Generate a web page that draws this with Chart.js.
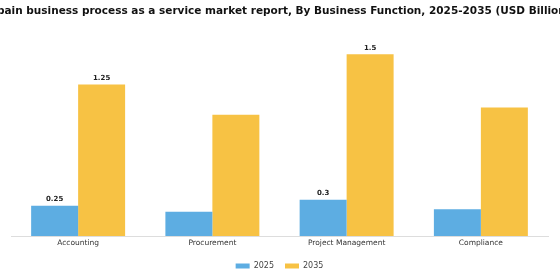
<!DOCTYPE html>
<html>
<head>
<meta charset="utf-8">
<script src="https://cdn.jsdelivr.net/npm/chart.js@4"></script>
<style>
  html, body { margin: 0; padding: 0; background: #fff; }
  #wrap { width: 560px; height: 280px; }
</style>
</head>
<body>
<div id="wrap"><canvas id="chart"></canvas></div>
<script>
const chartTitle = "Spain business process as a service market report, By Business Function, 2025-2035 (USD Billion)";
const categories = ["Accounting", "Procurement", "Project Management", "Compliance"];
const values2025 = [0.25, 0.2, 0.3, 0.22];
const values2035 = [1.25, 1.0, 1.5, 1.06];
// only some bars carry a value label in the reference
const labels2025 = ["0.25", "", "0.3", ""];
const labels2035 = ["1.25", "", "1.5", ""];

const blue = "#5DADE2";
const yellow = "#F7C244";

// the title in the reference is wider than the canvas and gets cut at both ends,
// so draw it by hand (Chart.js title would squeeze it to fit)
const wideTitle = {
    id: "wideTitle",
    afterDraw(chart) {
        const ctx = chart.ctx;
        ctx.save();
        ctx.font = "bold 10.5px 'DejaVu Sans'";
        ctx.fillStyle = "#111";
        ctx.textAlign = "center";
        ctx.textBaseline = "middle";
        ctx.fillText(chartTitle, chart.width / 2, 11);
        ctx.restore();
    }
};

// draws the small bold numbers above the bars
const barLabels = {
    id: "barLabels",
    afterDatasetsDraw(chart) {
        const ctx = chart.ctx;
        const texts = [labels2025, labels2035];
        ctx.save();
        ctx.font = "bold 7px 'DejaVu Sans'";
        ctx.fillStyle = "#222";
        ctx.textAlign = "center";
        ctx.textBaseline = "bottom";
        chart.data.datasets.forEach((ds, i) => {
            chart.getDatasetMeta(i).data.forEach((bar, j) => {
                if (texts[i][j]) ctx.fillText(texts[i][j], bar.x, bar.y - 3);
            });
        });
        ctx.restore();
    }
};

new Chart(document.getElementById("chart"), {
    type: "bar",
    data: {
        labels: categories,
        datasets: [
            { label: "2025", data: values2025, backgroundColor: blue },
            { label: "2035", data: values2035, backgroundColor: yellow }
        ]
    },
    options: {
        responsive: true,
        maintainAspectRatio: false,
        animation: false,
        layout: { padding: { top: 30, left: 11, right: 12, bottom: 0 } },
        datasets: {
            bar: { categoryPercentage: 0.7, barPercentage: 1.0 }
        },
        plugins: {
            title: { display: false },
            legend: {
                position: "bottom",
                labels: {
                    boxWidth: 14,
                    boxHeight: 5,
                    padding: 11,
                    font: { family: "'DejaVu Sans'", size: 8 },
                    color: "#444"
                }
            },
            tooltip: { enabled: false }
        },
        scales: {
            x: {
                grid: { display: false, drawTicks: false },
                border: { display: true, color: "#ddd" },
                ticks: { font: { family: "'DejaVu Sans'", size: 7.5 }, color: "#333", padding: 3 }
            },
            y: {
                display: false,
                min: 0,
                max: 1.7
            }
        }
    },
    plugins: [barLabels, wideTitle]
});
</script>
</body>
</html>
